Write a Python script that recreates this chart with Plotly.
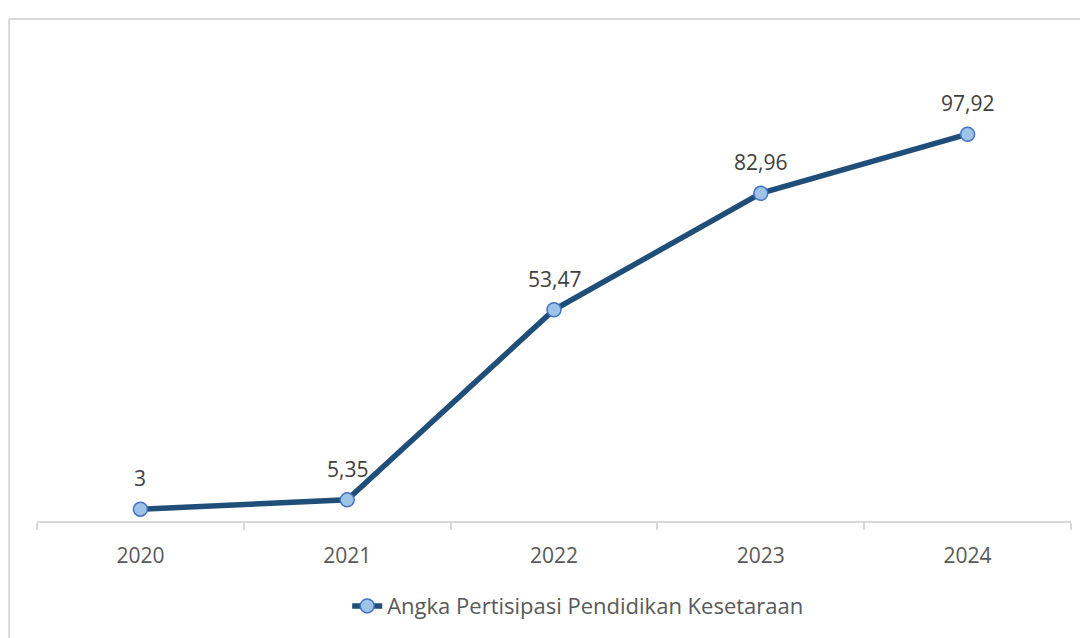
import plotly.graph_objects as go

years = ["2020", "2021", "2022", "2023", "2024"]
apk = [3, 5.35, 53.47, 82.96, 97.92]
labels = ["3", "5,35", "53,47", "82,96", "97,92"]

fig = go.Figure()
fig.add_trace(go.Scatter(
    x=years, y=apk, mode="lines+markers",
    name="Angka Pertisipasi Pendidikan Kesetaraan",
    line=dict(color="#1F4E79", width=5.5),
    marker=dict(size=14, color="#9DC3E6", line=dict(color="#4472C4", width=1.5)),
))

# value labels above each point (x given as category index)
for i, (y, t) in enumerate(zip(apk, labels)):
    fig.add_annotation(x=i, y=y, text=t, showarrow=False, yshift=31,
                       font=dict(size=21, color="#404040"))

fig.update_xaxes(
    type="category", range=[-0.5, 4.5],
    showline=True, linecolor="#D9D9D9", linewidth=2,
    ticks="outside", tickson="boundaries", ticklen=7, tickcolor="#D9D9D9", tickwidth=2,
    showgrid=False, tickfont=dict(size=21, color="#595959"),
    ticklabelstandoff=15,
)
fig.update_yaxes(range=[0, 120], visible=False, showgrid=False)

# chart outline (partly cut by the picture edge)
fig.add_shape(type="line", xref="paper", yref="paper", x0=-0.027, x1=1.1, y0=1.059, y1=1.059,
              line=dict(color="#D9D9D9", width=2))
fig.add_shape(type="line", xref="paper", yref="paper", x0=-0.027, x1=-0.027, y0=-0.3, y1=1.059,
              line=dict(color="#D9D9D9", width=2))

fig.update_layout(
    width=1080, height=630,
    margin=dict(l=29, r=17, t=39, b=116),
    paper_bgcolor="white", plot_bgcolor="white",
    font=dict(family="Open Sans, Noto Sans, sans-serif"),
    showlegend=True,
    legend=dict(orientation="h", x=0.300, xanchor="left", y=-0.177, yanchor="middle",
                font=dict(size=22, color="#595959")),
)

fig.write_html("out.html")
